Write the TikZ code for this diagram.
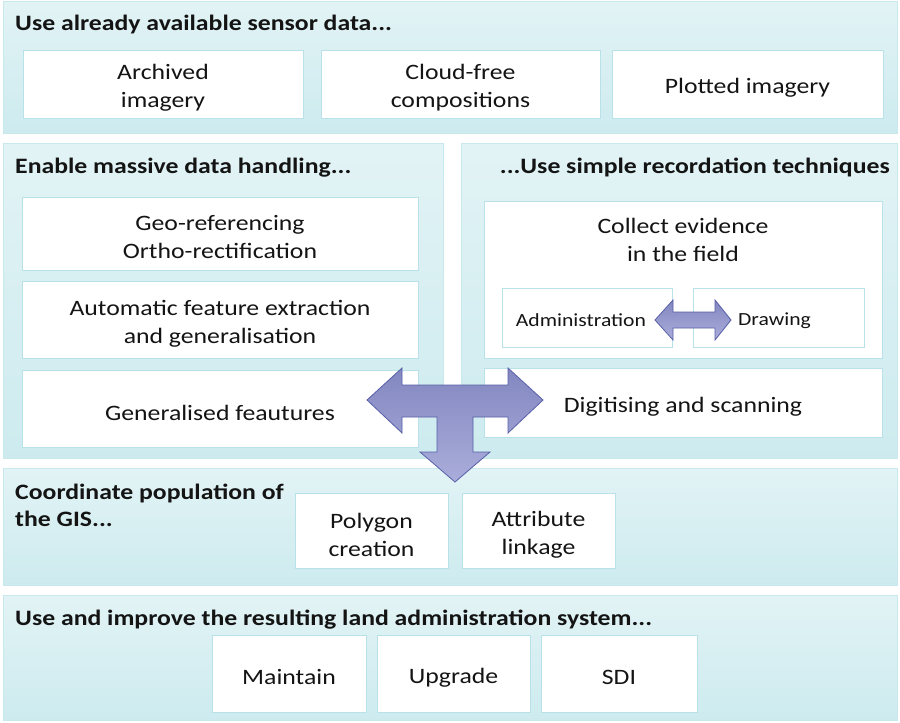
\documentclass[tikz,border=0pt]{standalone}
\usepackage{fontspec}
\setmainfont{Carlito}[FakeStretch=1.17]
\definecolor{paneltop}{RGB}{226,243,245}
\definecolor{panelbot}{RGB}{205,235,239}
\definecolor{panelline}{RGB}{200,232,236}
\definecolor{boxline}{RGB}{185,226,232}
\definecolor{arrtop}{RGB}{130,135,192}
\definecolor{arrbot}{RGB}{170,173,218}
\definecolor{arrline}{RGB}{88,96,168}
\definecolor{txt}{RGB}{20,20,20}
\begin{document}
\begin{tikzpicture}[x=1pt,y=-1pt,
  panel/.style={draw=panelline, line width=1pt, top color=paneltop, bottom color=panelbot},
  box/.style={draw=boxline, line width=1pt, fill=white, inner sep=0pt},
  plain/.style={align=center, inner sep=0pt, font=\fontsize{22}{28}\selectfont, text=txt},
  small/.style={plain, font=\fontsize{18.5}{24}\selectfont},
  tx/.style={label={[plain,yshift=-4pt]center:{#1}}},
  stx/.style={label={[small,yshift=-3pt]center:{#1}}},
  title/.style={font=\fontsize{22}{27}\selectfont\bfseries, text=txt, inner sep=0pt, align=left},
  bigarrow/.style={draw=arrline, line width=0.8pt, top color=arrtop, bottom color=arrbot}]
\useasboundingbox (0,0) rectangle (900,723);
% panels
\path[panel] (3,1) rectangle (897,133);
\path[panel] (3,143) rectangle (443,458);
\path[panel] (461,143) rectangle (897,458);
\path[panel] (3,468) rectangle (897,585);
\path[panel] (3,595) rectangle (897,720);
% titles
\node[title, anchor=base west] (t1) at (15,30) {Use already available sensor data...};
\node[title, anchor=base west] (t2) at (15,173) {Enable massive data handling...};
\node[title, anchor=base east] (t3) at (890,173) {...Use simple recordation techniques};
\node[title, anchor=north west] (t4) at (15,484) {Coordinate population of\\the GIS...};
\node[title, anchor=base west] (t5) at (15,625) {Use and improve the resulting land administration system...};
% top boxes
\node[box, minimum width=280, minimum height=68, tx={Archived\\imagery}] (arch) at (163,84) {};
\node[box, minimum width=279, minimum height=68, tx={Cloud-free\\compositions}] (cloud) at (460.5,84) {};
\node[box, minimum width=271, minimum height=68, tx={Plotted imagery}] (plot) at (747.5,84) {};
% left panel boxes
\node[box, minimum width=396, minimum height=73, tx={Geo-referencing\\Ortho-rectification}] (geo) at (220,233.5) {};
\node[box, minimum width=396, minimum height=77, tx={Automatic feature extraction\\and generalisation}] (auto) at (220,319.5) {};
\node[box, minimum width=396, minimum height=77, tx={Generalised feautures}] (gen) at (220,408.5) {};
% right panel boxes
\node[box, minimum width=398, minimum height=157] (coll) at (683,279.5) {};
\node[plain] (colltxt) at (683,240) {Collect evidence\\in the field};
\node[box, minimum width=170, minimum height=59, stx={Administration\hspace*{12pt}}] (adm) at (587,317.5) {};
\node[box, minimum width=171, minimum height=59, stx={Drawing\hspace*{8pt}}] (draw) at (778.5,317.5) {};
\node[box, minimum width=398, minimum height=69, tx={Digitising and scanning}] (dig) at (683,402.5) {};
% GIS boxes
\node[box, minimum width=153, minimum height=75, tx={Polygon\\creation}] (poly) at (371.5,530.5) {};
\node[box, minimum width=153, minimum height=75, tx={Attribute\\linkage}] (attr) at (538.5,530.5) {};
% bottom boxes
\node[box, minimum width=154, minimum height=77, tx={Maintain}] (maint) at (289,673.5) {};
\node[box, minimum width=153, minimum height=77, tx={Upgrade}] (upg) at (453.5,673.5) {};
\node[box, minimum width=156, minimum height=77, tx={SDI}] (sdi) at (619,673.5) {};
% small double arrow
\path[bigarrow] (655,320) -- (673,300) -- (673,312) -- (715,312) -- (715,300) -- (731,320)
  -- (715,340) -- (715,328) -- (673,328) -- (673,340) -- cycle;
% big T arrow
\path[bigarrow] (367,400) -- (402,368) -- (402,385) -- (508,385) -- (508,368) -- (543,400)
  -- (508,433) -- (508,417) -- (473,417) -- (473,452) -- (490,452) -- (455,482)
  -- (420,452) -- (437,452) -- (437,417) -- (402,417) -- (402,433) -- cycle;
\end{tikzpicture}
\end{document}
